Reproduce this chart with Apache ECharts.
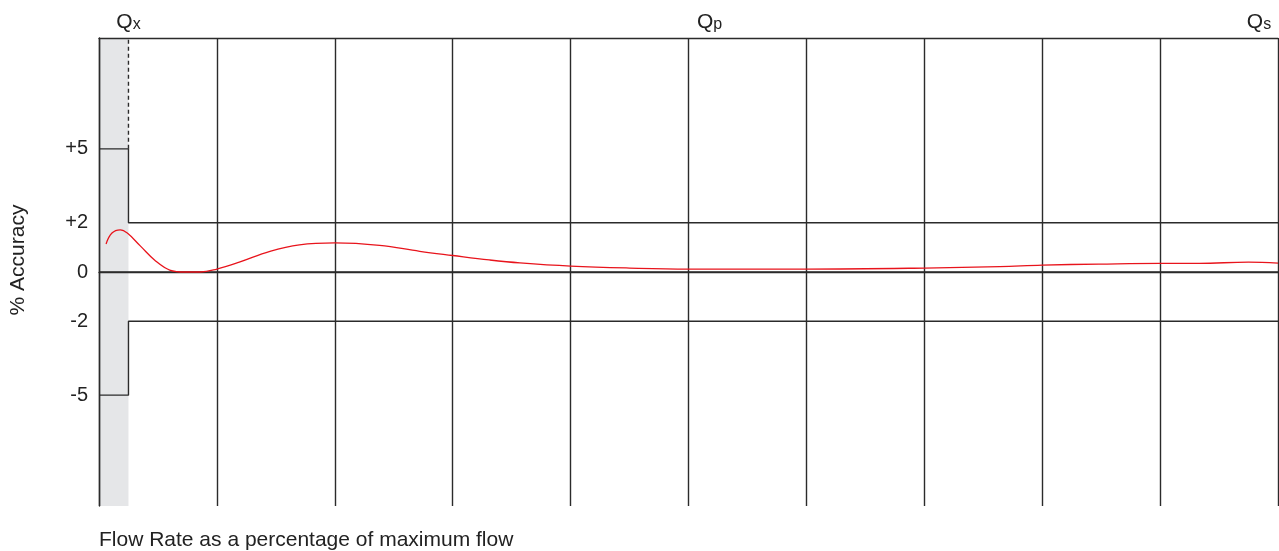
<!DOCTYPE html>
<html>
<head>
<meta charset="utf-8">
<script src="https://cdn.jsdelivr.net/npm/echarts@6/dist/echarts.min.js"></script>
<style>
  html, body { margin: 0; padding: 0; background: #fff; }
  #container { width: 1279px; height: 551px; }
</style>
</head>
<body>
<div id="container"></div>
<script>
// flow rate (% of max) and accuracy (%) of the meter curve
var flowPct = [0.6, 1.1, 1.8, 2.4, 3.5, 4.8, 6.0, 7.3, 8.6, 10, 11.9, 14.5, 17, 20, 23.8, 27.2, 30, 33.1, 35.7, 40, 45, 50, 60, 70, 76.4, 80, 84.8, 90, 93.3, 97.5, 100];
var accuracy = [1.14, 1.58, 1.71, 1.58, 1.06, 0.45, 0.08, 0.0, 0.0, 0.12, 0.4, 0.84, 1.1, 1.18, 1.08, 0.84, 0.67, 0.49, 0.37, 0.24, 0.16, 0.12, 0.12, 0.16, 0.22, 0.28, 0.32, 0.35, 0.35, 0.4, 0.36];

// tolerance limits
var limitX = [0, 2.5, 2.5, 100];
var upperY = [5, 5, 2, 2];
var lowerY = [-5, -5, -2, -2];
var qxFlow = 2.5;

var yTicks = [-5, -2, 0, 2, 5];
var qPos = [2.5, 50, 100];
var qSub = ['x', 'p', 's'];

function pairs(xs, ys) {
    return xs.map(function (x, i) { return [x, ys[i]]; });
}

var lineColor = '#2b2b2b';
var lineWidth = 1.4;

var dom = document.getElementById("container");
var myChart = echarts.init(dom);
var option = {
    animation: false,
    textStyle: { fontFamily: 'Liberation Sans, Arial, sans-serif' },
    title: {
        text: 'Flow Rate as a percentage of maximum flow',
        left: 94,
        top: 525,
        textStyle: { fontSize: 21, fontWeight: 'normal', color: '#222' }
    },
    grid: { left: 99, right: 1, top: 38, bottom: 45, outerBoundsMode: 'none' },
    xAxis: [{
        type: 'value',
        min: 0, max: 100, interval: 10,
        z: 5,
        axisLine: { lineStyle: { color: lineColor, width: lineWidth } },
        axisTick: { show: false },
        axisLabel: { show: false },
        splitLine: { show: true, lineStyle: { color: lineColor, width: lineWidth } }
    }, {
        type: 'value',
        position: 'top',
        min: 0, max: 100,
        z: 5,
        axisLine: { show: true, lineStyle: { color: lineColor, width: lineWidth } },
        axisTick: { show: false },
        splitLine: { show: false },
        axisLabel: {
            show: true,
            customValues: qPos,
            margin: 5,
            formatter: function (v) {
                var i = qPos.indexOf(v);
                if (i === 1) return '{gap|}{q|Q}{s|' + qSub[i] + '}';
                if (i === 2) return '{q|Q}{s|' + qSub[i] + '}{gap2|}';
                return '{q|Q}{s|' + qSub[i] + '}';
            },
            rich: {
                q: { fontSize: 21, lineHeight: 22, color: '#222' },
                s: { fontSize: 16, lineHeight: 10, verticalAlign: 'bottom', color: '#222' },
                gap: { width: 42 },
                gap2: { width: 38 }
            }
        }
    }],
    yAxis: {
        type: 'value',
        min: -9.5, max: 9.5,
        z: 5,
        name: '% Accuracy',
        nameLocation: 'middle',
        nameRotate: 90,
        nameGap: 70,
        nameTextStyle: { fontSize: 21, color: '#222', padding: [0, 0, 0, 24] },
        axisLine: { show: true, lineStyle: { color: lineColor, width: lineWidth } },
        axisTick: { show: false },
        splitLine: { show: false },
        axisLabel: {
            customValues: yTicks,
            margin: 11,
            fontSize: 20,
            color: '#222',
            formatter: function (v) { return v > 0 ? '+' + v : String(v); }
        }
    },
    series: [{
        name: 'band',
        type: 'line',
        data: [],
        silent: true,
        markArea: {
            silent: true,
            itemStyle: { color: '#e5e6e8' },
            data: [[{ xAxis: 0 }, { xAxis: qxFlow }]]
        }
    }, {
        name: 'zero',
        type: 'line',
        data: [[0, 0], [100, 0]],
        symbol: 'none',
        lineStyle: { color: lineColor, width: lineWidth }
    }, {
        name: 'upper',
        type: 'line',
        data: pairs(limitX, upperY),
        symbol: 'none',
        lineStyle: { color: lineColor, width: lineWidth }
    }, {
        name: 'lower',
        type: 'line',
        data: pairs(limitX, lowerY),
        symbol: 'none',
        lineStyle: { color: lineColor, width: lineWidth }
    }, {
        name: 'qx',
        type: 'line',
        data: [[qxFlow, 5], [qxFlow, 9.5]],
        symbol: 'none',
        lineStyle: { color: lineColor, width: lineWidth, type: [4, 3] }
    }, {
        name: 'accuracy',
        type: 'line',
        data: pairs(flowPct, accuracy),
        smooth: 0.4,
        symbol: 'none',
        z: 6,
        lineStyle: { color: '#e8141c', width: 1.3 }
    }]
};
myChart.setOption(option, true);
</script>
</body>
</html>
